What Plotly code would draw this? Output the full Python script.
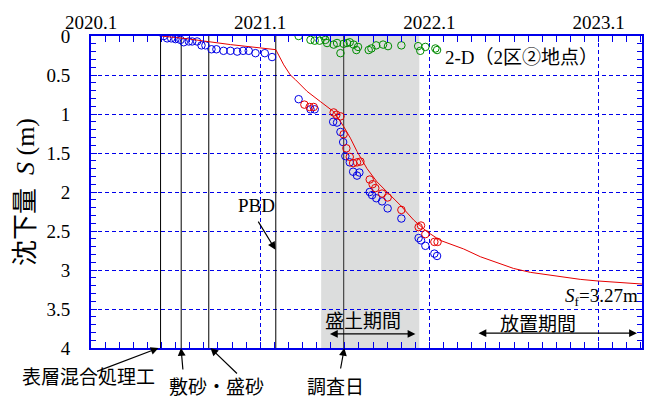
import plotly.graph_objects as go

# ---------------- data (x in decimal years, S in m) ----------------
blue_t = [2020.430, 2020.450, 2020.474, 2020.499, 2020.529, 2020.548, 2020.578, 2020.598, 2020.627,
          2020.653, 2020.676, 2020.712, 2020.741, 2020.783, 2020.824, 2020.864, 2020.899, 2020.932,
          2020.972, 2021.027, 2021.070, 2021.227, 2021.297, 2021.322, 2021.431, 2021.454, 2021.474,
          2021.490, 2021.503, 2021.529, 2021.549, 2021.572, 2021.586, 2021.647, 2021.661, 2021.686,
          2021.720, 2021.753, 2021.834, 2021.936, 2021.950, 2021.976, 2022.029, 2022.045]
blue_s = [0.00, 0.03, 0.03, 0.04, 0.05, 0.08, 0.07, 0.07, 0.07, 0.12, 0.12, 0.17, 0.17, 0.19, 0.19,
          0.20, 0.19, 0.19, 0.22, 0.22, 0.27, 0.81, 0.94, 0.94, 1.10, 1.11, 1.23, 1.36, 1.54, 1.62,
          1.74, 1.79, 1.75, 2.00, 2.04, 2.08, 2.12, 2.21, 2.34, 2.59, 2.62, 2.69, 2.79, 2.82]

red_t = [2021.261, 2021.292, 2021.316, 2021.434, 2021.450, 2021.474, 2021.493, 2021.509, 2021.529,
         2021.549, 2021.572, 2021.592, 2021.647, 2021.664, 2021.680, 2021.720, 2021.753, 2021.834,
         2021.936, 2021.950, 2021.976, 2022.029, 2022.048]
red_s = [0.88, 0.91, 0.91, 0.98, 1.01, 1.03, 1.26, 1.44, 1.55, 1.63, 1.62, 1.61, 1.84, 1.90, 1.95,
         2.02, 2.07, 2.23, 2.45, 2.43, 2.54, 2.64, 2.64]

green_t = [2021.227, 2021.297, 2021.322, 2021.351, 2021.375, 2021.385, 2021.395, 2021.434, 2021.454,
           2021.474, 2021.493, 2021.513, 2021.529, 2021.552, 2021.568, 2021.578, 2021.641, 2021.657,
           2021.685, 2021.726, 2021.755, 2021.834, 2021.933, 2021.946, 2021.976, 2022.035, 2022.045]
green_s = [0.00, 0.05, 0.06, 0.06, 0.00, 0.05, 0.09, 0.11, 0.09, 0.22, 0.10, 0.09, 0.08, 0.11, 0.18,
           0.14, 0.18, 0.16, 0.12, 0.11, 0.13, 0.12, 0.13, 0.19, 0.14, 0.16, 0.18]

curve_t = [2020.411, 2020.548, 2020.824, 2021.092, 2021.139, 2021.178, 2021.208, 2021.277, 2021.355,
           2021.434, 2021.493, 2021.533, 2021.572, 2021.631, 2021.690, 2021.750, 2021.828, 2021.907,
           2021.986, 2022.064, 2022.202, 2022.301, 2022.399, 2022.497, 2022.596, 2022.695, 2022.793,
           2022.891, 2022.990, 2023.088, 2023.187, 2023.256]
curve_s = [0.00, 0.03, 0.11, 0.175, 0.37, 0.50, 0.56, 0.71, 0.84, 0.97, 1.16, 1.31, 1.48, 1.70, 1.87,
           2.00, 2.17, 2.36, 2.51, 2.62, 2.73, 2.83, 2.91, 2.98, 3.03, 3.06, 3.09, 3.12, 3.14, 3.155,
           3.17, 3.18]

event_t = [2020.411, 2020.533, 2020.696, 2021.092, 2021.493]   # last = 調査日
fill_period = [2021.360, 2021.940]

x_ticks = [2020, 2021, 2022, 2023]
x_labels = ["2020.1", "2021.1", "2022.1", "2023.1"]
y_ticks = [0, 0.5, 1, 1.5, 2, 2.5, 3, 3.5, 4]
y_labels = ["0", "0.5", "1", "1.5", "2", "2.5", "3", "3.5", "4"]

X_RANGE = [2020.0, 2023.256]
Y_RANGE = [4, 0]

BLUE = "rgb(0,0,235)"
FONT = "Liberation Serif, Noto Sans CJK JP, serif"

fig = go.Figure()

mk = dict(symbol="circle-open", size=7.5, line=dict(width=1))
fig.add_trace(go.Scatter(x=green_t, y=green_s, mode="markers",
                         marker=dict(color="rgb(0,140,0)", **mk)))
fig.add_trace(go.Scatter(x=blue_t, y=blue_s, mode="markers",
                         marker=dict(color="rgb(0,0,230)", **mk)))
fig.add_trace(go.Scatter(x=red_t, y=red_s, mode="markers",
                         marker=dict(color="rgb(230,0,0)", **mk)))
fig.add_trace(go.Scatter(x=curve_t, y=curve_s, mode="lines",
                         line=dict(color="rgb(230,0,0)", width=1)))

# shaded embankment period
fig.add_shape(type="rect", xref="x", yref="y", x0=fill_period[0], x1=fill_period[1],
              y0=0, y1=4, fillcolor="rgb(220,221,221)", line=dict(width=0), layer="below")
# event lines
for i, t in enumerate(event_t):
    last = i == len(event_t) - 1
    fig.add_shape(type="line", xref="x", yref="y", x0=t, x1=t, y0=0, y1=4,
                  line=dict(color="rgb(70,70,70)" if last else "black", width=1.2 if last else 1),
                  layer="between")

ann_font = dict(family=FONT, size=19, color="black")

def label(x, y, text, xanchor="center", xref="x", yref="y"):
    fig.add_annotation(x=x, y=y, xref=xref, yref=yref, text=text, showarrow=False,
                       font=ann_font, xanchor=xanchor, yanchor="middle")

def arrow_px(x, y, dx, dy):
    fig.add_annotation(x=x, y=y, ax=dx, ay=dy, xref="x", yref="y",
                       text="", showarrow=True, arrowhead=2, arrowsize=1.3, arrowwidth=1.2,
                       arrowcolor="black")

def arrow_data(x0, y0, x1, y1, both=False):
    fig.add_annotation(x=x1, y=y1, ax=x0, ay=y0, xref="x", yref="y", axref="x", ayref="y",
                       text="", showarrow=True, arrowhead=2, arrowsize=1.3, arrowwidth=1.2,
                       arrowcolor="black", arrowside="end+start" if both else "end",
                       startarrowhead=2, startarrowsize=1.3)

# labels below the plot (paper coordinates)
label(-0.004, -0.096, "表層混合処理工", xref="paper", yref="paper")
label(0.2276, -0.128, "敷砂・盛砂", xref="paper", yref="paper")
label(0.4435, -0.125, "調査日", xref="paper", yref="paper")
# labels inside the plot
label(2021.610, 3.66, "盛土期間")
label(2022.643, 3.705, "放置期間")
label(2023.246, 3.34, "<i>S</i><sub>f</sub>=3.27m", xanchor="right")
label(2020.978, 2.17, "PBD")
label(2022.543, 0.27, "2-D（2区②地点）")

arrow_px(2020.399, 4.0, -63, 24)
arrow_px(2020.532, 4.0, 2, 23)
arrow_px(2020.706, 4.0, 28, 27)
arrow_px(2021.497, 4.0, -4, 22)
arrow_data(2020.983, 2.36, 2021.090, 2.74)
arrow_data(2021.403, 3.82, 2021.917, 3.82, both=True)
arrow_data(2022.281, 3.81, 2023.226, 3.81, both=True)

fig.update_layout(
    width=648, height=397,
    margin=dict(l=91, r=6, t=36, b=49),
    paper_bgcolor="white", plot_bgcolor="white",
    showlegend=False,
    font=dict(family=FONT, size=18, color="black"),
    xaxis=dict(range=X_RANGE, side="top", tickmode="array", tickvals=x_ticks, ticktext=x_labels,
               ticks="inside", ticklen=6, tickcolor=BLUE, tickwidth=1,
               showline=True, linecolor=BLUE, linewidth=2, mirror="ticks",
               showgrid=True, gridcolor=BLUE, gridwidth=1, griddash="4px,3px",
               zeroline=False, ticklabelstandoff=-3, automargin=False,
               tickfont=dict(family=FONT, size=19),
               minor=dict(tick0=2020, dtick=1/12, ticks="inside", ticklen=6,
                          tickcolor=BLUE, showgrid=False)),
    yaxis=dict(range=Y_RANGE, tickmode="array", tickvals=y_ticks, ticktext=y_labels,
               ticks="inside", ticklen=6, tickcolor=BLUE, tickwidth=1,
               showline=True, linecolor=BLUE, linewidth=2, mirror="ticks",
               showgrid=True, gridcolor=BLUE, gridwidth=1, griddash="4px,3px",
               zeroline=False, ticklabelstandoff=15, automargin=False,
               tickfont=dict(family=FONT, size=19),
               minor=dict(tick0=0, dtick=0.1, ticks="inside", ticklen=5,
                          tickcolor=BLUE, showgrid=False),
               title=dict(text="沈下量  <i>S</i> (m)", standoff=4,
                          font=dict(family=FONT, size=26))),
)

fig.write_html("out.html", config={"displayModeBar": False},
               post_script="document.body.style.margin='0px';document.body.style.padding='0px';")
